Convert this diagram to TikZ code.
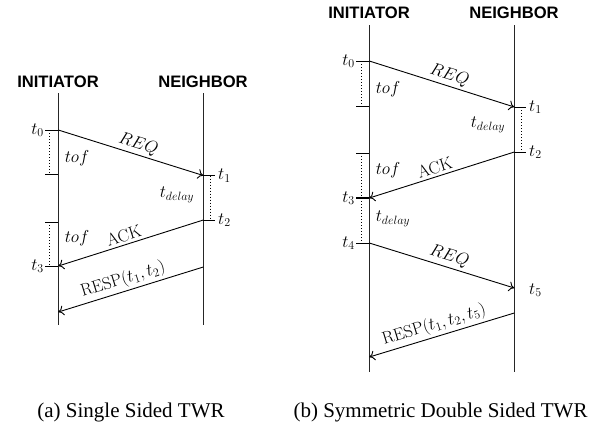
\documentclass[tikz,border=0pt]{standalone}
\usepackage[no-math]{fontspec}
\setmainfont{Liberation Serif}
\newfontfamily\hdrfont{Liberation Sans}
\usetikzlibrary{arrows.meta}
\begin{document}
\begin{tikzpicture}[x=1pt,y=-1pt,
  life/.style={line width=1.2pt, black!85},
  msg/.style={line width=0.9pt, -{To[length=5.5pt,width=10pt]}},
  tickln/.style={line width=1pt},
  dots/.style={dotted, line width=1pt},
  lbl/.style={font=\fontsize{18.5}{21}\selectfont, inner sep=1pt},
  mlbl/.style={lbl, sloped, above=1.5pt, pos=0.53},
  hdr/.style={font=\hdrfont\bfseries\fontsize{16.6}{18}\selectfont, inner sep=0pt},
  captxt/.style={font=\fontsize{21}{24}\selectfont, anchor=base, inner sep=0pt}]
\useasboundingbox (0,0) rectangle (610,424);

% ---------------- (a) ----------------
\node[hdr] (hAI) at (58,82) {INITIATOR};
\node[hdr] (hAN) at (203,82) {NEIGHBOR};
\coordinate (ALt) at (58.3,93);  \coordinate (ALb) at (58.3,325);
\coordinate (ARt) at (203.3,93); \coordinate (ARb) at (203.3,325);
\draw[life] (ALt) -- (ALb);
\draw[life] (ARt) -- (ARb);

\coordinate (A0) at (58.3,130);  \coordinate (A0k) at (45,130);
\coordinate (Aa) at (58.3,174);  \coordinate (Aak) at (45,174);
\coordinate (Ab) at (58.3,222);  \coordinate (Abk) at (45,222);
\coordinate (A3) at (58.3,266);  \coordinate (A3k) at (45,266);
\coordinate (A1) at (203.3,175.5); \coordinate (A1k) at (215,175.5);
\coordinate (A2) at (203.3,220); \coordinate (A2k) at (215,220);
\coordinate (Ar) at (203.3,267); \coordinate (Ae) at (58.3,312);

\draw[tickln] (A0k) -- (A0);
\draw[tickln] (Aak) -- (Aa);
\draw[tickln] (Abk) -- (Ab);
\draw[tickln] (A3k) -- (A3);
\draw[tickln] (A1) -- (A1k);
\draw[tickln] (A2) -- (A2k);
\draw[dots] ([xshift=4pt]A0k) -- ([xshift=4pt]Aak);
\draw[dots] ([xshift=4pt]Abk) -- ([xshift=4pt]A3k);
\draw[dots] ([xshift=-5pt]A1k) -- ([xshift=-5pt]A2k);

\node[lbl, anchor=east] (At0) at (A0k) {$t_0$};
\node[lbl, anchor=east] (At3) at (A3k) {$t_3$};
\node[lbl, anchor=west] (At1) at ([xshift=2pt]A1k) {$t_1$};
\node[lbl, anchor=west] (At2) at ([xshift=2pt]A2k) {$t_2$};
\node[lbl] (Atof1) at (77,158) {$tof$};
\node[lbl] (Atof2) at (77,238) {$tof$};
\node[lbl] (Atd) at (177,195) {$t_{delay}$};

\draw[msg] (A0) -- node[mlbl] {$REQ$} (A1);
\draw[msg] (A2) -- node[mlbl] {$\mathrm{ACK}$} (A3);
\draw[msg] (Ar) -- node[mlbl] {$\mathrm{RESP}(t_1,t_2)$} (Ae);

% ---------------- (b) ----------------
\node[hdr] (hBI) at (369,13) {INITIATOR};
\node[hdr] (hBN) at (514,13) {NEIGHBOR};
\coordinate (BLt) at (369.3,25);  \coordinate (BLb) at (369.3,372);
\coordinate (BRt) at (514.3,25);  \coordinate (BRb) at (514.3,372);
\draw[life] (BLt) -- (BLb);
\draw[life] (BRt) -- (BRb);

\coordinate (B0) at (369.3,61);   \coordinate (B0k) at (356,61);
\coordinate (Ba) at (369.3,106);  \coordinate (Bak) at (356,106);
\coordinate (Bb) at (369.3,153);  \coordinate (Bbk) at (356,153);
\coordinate (B3) at (369.3,198);  \coordinate (B3k) at (356,198);
\coordinate (B4) at (369.3,243);  \coordinate (B4k) at (356,243);
\coordinate (B1) at (514.3,107);  \coordinate (B1k) at (526,107);
\coordinate (B2) at (514.3,152);  \coordinate (B2k) at (526,152);
\coordinate (B5) at (514.3,288);
\coordinate (Br) at (514.3,313);  \coordinate (Be) at (369.3,357);

\draw[tickln] (B0k) -- (B0);
\draw[tickln] (Bak) -- (Ba);
\draw[tickln] (Bbk) -- (Bb);
\draw[tickln, line width=2pt] (B3k) -- (B3);
\draw[tickln] (B4k) -- (B4);
\draw[tickln] (B1) -- (B1k);
\draw[tickln] (B2) -- (B2k);
\draw[dots] ([xshift=5.5pt]B0k) -- ([xshift=5.5pt]Bak);
\draw[dots] ([xshift=5.5pt]Bbk) -- ([xshift=5.5pt]B4k);
\draw[dots] ([xshift=-5pt]B1k) -- ([xshift=-5pt]B2k);

\node[lbl, anchor=east] (Bt0) at (B0k) {$t_0$};
\node[lbl, anchor=east] (Bt3) at (B3k) {$t_3$};
\node[lbl, anchor=east] (Bt4) at (B4k) {$t_4$};
\node[lbl, anchor=west] (Bt1) at ([xshift=2pt]B1k) {$t_1$};
\node[lbl, anchor=west] (Bt2) at ([xshift=2pt]B2k) {$t_2$};
\node[lbl, anchor=west] (Bt5) at (528,290) {$t_5$};
\node[lbl] (Btof1) at (388,89) {$tof$};
\node[lbl] (Btof2) at (388,170) {$tof$};
\node[lbl] (Btd1) at (488,125) {$t_{delay}$};
\node[lbl] (Btd2) at (393,219) {$t_{delay}$};

\draw[msg] (B0) -- node[mlbl] {$REQ$} (B1);
\draw[msg] (B2) -- node[mlbl] {$\mathrm{ACK}$} (B3);
\draw[msg] (B4) -- node[mlbl] {$REQ$} (B5);
\draw[msg] (Br) -- node[mlbl] {$\mathrm{RESP}(t_1,t_2,t_5)$} (Be);

% captions
\node[captxt] (capA) at (131,417) {(a) Single Sided TWR};
\node[captxt] (capB) at (440.5,417) {(b) Symmetric Double Sided TWR};
\end{tikzpicture}
\end{document}
